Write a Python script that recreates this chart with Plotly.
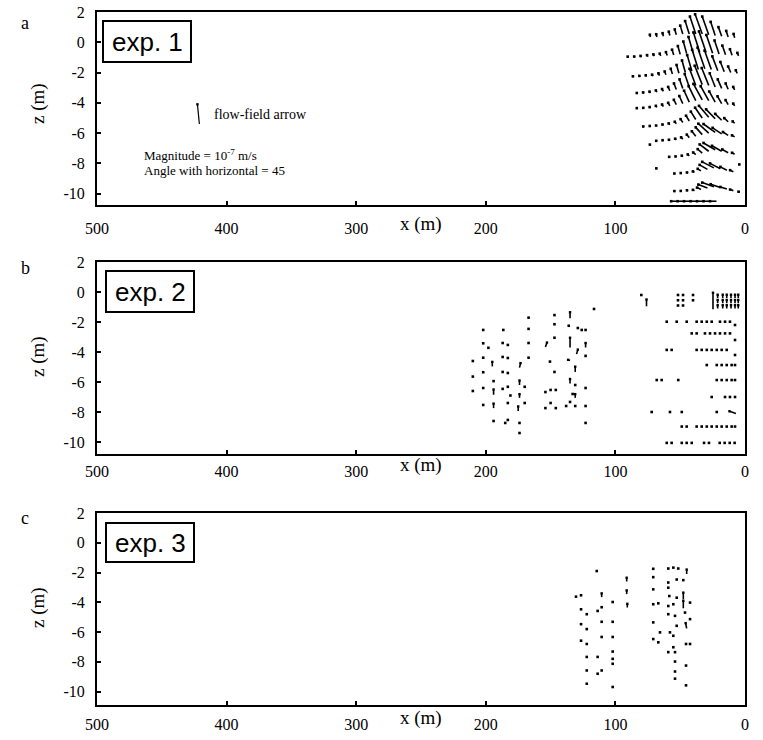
import plotly.graph_objects as go

# ---------------------------------------------------------------------------
# exp. 1 : flow-field vectors on the grid nodes, one sub-list per node row.
# (x, z) = node position [m];  (u, w) = scaled vector components [m]
# ---------------------------------------------------------------------------
EXP1_X = [
    [73, 68, 63, 58, 53, 48, 43, 38, 33, 28, 23, 18, 13, 8],
    [90, 85, 80, 75, 70, 65, 60, 55, 50, 45, 40, 35, 30, 25, 20, 15, 10, 5],
    [86, 81, 76, 71, 66, 61, 56, 51, 46, 41, 36, 31, 26, 21, 16, 11, 6],
    [83, 78, 73, 68, 63, 58, 53, 48, 43, 38, 33, 28, 23, 18, 13, 8],
    [83, 78, 73, 68, 63, 58, 53, 48, 43, 38, 33, 28, 23, 18, 13, 8],
    [78, 73, 68, 63, 58, 53, 48, 43, 38, 33, 28, 23, 18, 13, 8],
    [73, 68, 63, 58, 53, 48, 43, 38, 33, 28, 23, 18, 13, 8],
    [58, 53, 48, 43, 38, 33, 28, 23, 18, 13, 8],
    [68, 54, 49, 44, 39, 34, 29, 24, 19, 14, 9, 4],
    [54, 49, 44, 39, 34, 29, 24, 19, 14, 9, 4],
    [52, 47, 42, 37, 32, 27, 22],
]
EXP1_Z = [
    [0.35, 0.35, 0.4, 0.45, 0.5, 0.55, 0.55, 0.55, 0.55, 0.5, 0.45, 0.4, 0.35, 0.3],
    [-1.0, -1.0, -0.98, -0.95, -0.92, -0.9, -0.87, -0.84, -0.8, -0.75, -0.7, -0.65, -0.68, -0.72, -0.78, -0.82, -0.86, -0.9],
    [-2.3, -2.28, -2.26, -2.24, -2.2, -2.15, -2.1, -2.05, -2.0, -1.9, -1.8, -1.75, -1.8, -1.88, -1.95, -2.0, -2.05],
    [-3.4, -3.38, -3.35, -3.3, -3.25, -3.2, -3.12, -3.05, -2.95, -2.85, -2.8, -2.85, -2.95, -3.05, -3.1, -3.15],
    [-4.4, -4.38, -4.35, -4.3, -4.25, -4.2, -4.12, -4.05, -3.95, -3.85, -3.8, -3.85, -3.95, -4.05, -4.12, -4.2],
    [-5.6, -5.58, -5.55, -5.5, -5.45, -5.38, -5.3, -5.2, -5.1, -5.0, -4.95, -5.05, -5.15, -5.25, -5.35],
    [-6.8, -6.55, -6.52, -6.5, -6.45, -6.4, -6.3, -6.2, -6.1, -6.0, -5.95, -6.05, -6.15, -6.25],
    [-7.6, -7.58, -7.55, -7.5, -7.42, -7.32, -7.2, -7.1, -7.2, -7.3, -7.4],
    [-8.36, -8.7, -8.68, -8.65, -8.6, -8.5, -8.4, -8.3, -8.35, -8.45, -8.55, -8.1],
    [-9.85, -9.85, -9.82, -9.8, -9.72, -9.62, -9.55, -9.6, -9.7, -9.8, -9.9],
    [-10.5, -10.5, -10.5, -10.5, -10.5, -10.5, -10.5],
]
EXP1_U = [
    [0.4, 0.5, 0.6, 0.8, 1.2, 2.0, 3.2, 4.5, 5.5, 5.0, 3.5, 2.5, 1.5, 0.8],
    [0.5, 0.5, 0.6, 0.6, 0.7, 0.8, 1.0, 1.3, 1.8, 2.6, 3.6, 4.8, 5.5, 4.8, 3.5, 2.5, 1.6, 0.9],
    [0.5, 0.5, 0.6, 0.7, 0.8, 1.0, 1.3, 1.8, 2.6, 3.6, 4.8, 5.6, 5.2, 4.2, 3.0, 2.0, 1.1],
    [0.5, 0.6, 0.7, 0.8, 1.0, 1.3, 1.8, 2.5, 3.5, 4.8, 5.8, 5.4, 4.2, 3.0, 1.9, 1.1],
    [0.5, 0.5, 0.6, 0.8, 1.0, 1.3, 1.9, 2.7, 4.0, 5.5, 6.8, 6.2, 4.6, 3.2, 2.0, 1.1],
    [0.5, 0.5, 0.6, 0.7, 0.9, 1.2, 1.7, 2.5, 3.8, 5.5, 7.5, 7.0, 5.0, 3.0, 1.5],
    [0.4, 0.5, 0.6, 0.7, 0.9, 1.3, 1.9, 3.0, 5.0, 8.0, 9.0, 7.0, 4.0, 2.0],
    [0.5, 0.6, 0.8, 1.2, 2.0, 3.5, 7.0, 9.0, 7.5, 4.5, 2.0],
    [0.4, 0.5, 0.6, 0.8, 1.2, 2.5, 6.0, 9.0, 8.0, 5.0, 2.5, 0.4],
    [0.5, 0.6, 0.8, 1.2, 3.0, 7.0, 9.0, 7.5, 5.0, 2.5, 1.0],
    [5.0, 5.0, 5.0, 5.0, 5.0, 5.0, 5.0],
]
EXP1_W = [
    [0.15, 0.18, 0.2, 0.25, 0.35, 0.55, 0.85, 1.15, 1.3, 1.2, 0.9, 0.6, 0.4, 0.25],
    [0.05, 0.06, 0.08, 0.1, 0.12, 0.15, 0.22, 0.35, 0.55, 0.8, 1.05, 1.3, 1.4, 1.2, 0.9, 0.6, 0.4, 0.2],
    [0.05, 0.06, 0.08, 0.1, 0.15, 0.22, 0.35, 0.55, 0.8, 1.05, 1.3, 1.4, 1.25, 0.95, 0.65, 0.4, 0.2],
    [0.05, 0.07, 0.09, 0.12, 0.16, 0.25, 0.4, 0.6, 0.85, 1.1, 1.25, 1.15, 0.9, 0.6, 0.38, 0.2],
    [0.05, 0.05, 0.07, 0.1, 0.14, 0.2, 0.32, 0.5, 0.75, 0.95, 1.05, 0.95, 0.7, 0.48, 0.3, 0.15],
    [0.04, 0.05, 0.05, 0.07, 0.09, 0.13, 0.22, 0.35, 0.52, 0.68, 0.75, 0.62, 0.42, 0.24, 0.12],
    [0.04, 0.04, 0.05, 0.06, 0.08, 0.12, 0.2, 0.32, 0.48, 0.62, 0.55, 0.4, 0.22, 0.1],
    [0.03, 0.04, 0.06, 0.09, 0.14, 0.26, 0.45, 0.45, 0.36, 0.22, 0.1],
    [0.03, 0.03, 0.04, 0.05, 0.07, 0.14, 0.3, 0.4, 0.35, 0.22, 0.1, 0.03],
    [0.02, 0.03, 0.04, 0.05, 0.12, 0.22, 0.28, 0.22, 0.14, 0.07, 0.03],
    [0.0, 0.0, 0.0, 0.0, 0.0, 0.0, 0.0],
]

# reference vector drawn in the legend of exp. 1
SCALE_X, SCALE_Z, SCALE_U, SCALE_W = [421], [-5.4], [1.5], [1.3]

# ---------------------------------------------------------------------------
# exp. 2 : dots (short vectors) and longer strokes
# ---------------------------------------------------------------------------
EXP2_DOT_X = [
    167, 147, 116.5,
    202, 186.5, 167, 147, 136, 129, 126, 123,
    202, 198, 187, 183, 167, 147,
    210, 202, 187, 183, 167, 150.5, 123,
    210, 202, 187, 183, 147,
    194, 170, 131,
    210, 202, 187, 183, 154, 150, 146, 123,
    181, 170, 133,
    202, 183, 154, 150, 146, 138, 135, 131, 123,
    194, 185, 183, 174, 123,
    174,
    80, 51.7, 51.7, 51.7, 47.8, 47.8, 47.8, 40.1, 40.1,
    7.7, 7.7, 7.7,
]
EXP2_DOT_Z = [
    -1.71, -1.54, -1.13,
    -2.53, -2.53, -2.46, -2.15, -2.25, -2.4, -2.53, -2.53,
    -3.42, -3.72, -3.4, -3.53, -3.4, -3.05,
    -4.6, -4.38, -4.33, -4.4, -4.38, -4.64, -4.26,
    -5.64, -5.35, -5.33, -5.4, -5.33,
    -5.94, -6.32, -6.2,
    -6.6, -6.4, -6.46, -6.32, -6.67, -6.53, -6.53, -6.4,
    -6.9, -7.4, -6.8,
    -7.53, -7.4, -7.74, -7.4, -7.74, -7.6, -7.33, -7.6, -7.6,
    -8.6, -8.73, -8.53, -8.73, -8.73,
    -9.4,
    -0.2, -0.2, -0.55, -0.9, -0.2, -0.55, -0.9, -0.2, -0.55,
    -2.2, -3.2, -4.2,
]
# regular node rows near the right-hand boundary
EXP2_ROW_Z = [-1.98, -2.76, -3.86, -4.87, -5.87, -7.0, -8.0, -8.97, -10.06]
EXP2_ROW_X = [
    [60.4, 52.7, 45, 37.3, 33.4, 29.5, 25.7, 19.3, 15.4, 11.6],
    [41.1, 37.3, 30.9, 27, 23.1, 19.3, 15.4, 11.6],
    [60.4, 56.6, 37.3, 33.4, 29.5, 25.7, 21.8, 18, 14.1],
    [29.5, 21.8, 18, 14.1, 10.3, 7.7],
    [68.1, 64.3, 51.5, 21.8, 18, 14.1, 10.3, 7.7],
    [25.7, 15.4, 11.6, 7.7],
    [72, 57.9, 48.8, 21.8],
    [48.8, 45, 37.3, 33.4, 29.5, 25.7, 21.8, 18, 14.1, 10.3, 7.7],
    [60.4, 56.6, 48.8, 45, 41.1, 31.6, 27.8, 19.5, 15.7, 11.8, 8],
]
EXP2_STROKE_X = [135, 154, 135, 123, 195, 135, 130, 174, 131, 174, 135, 194, 174, 131, 194, 175,
                 76, 24.7, 7,
                 21.1, 17.2, 14.1, 10.8, 7.7, 5.2,
                 21.1, 17.2, 14.1, 10.8, 7.7, 5.2,
                 21.1, 17.2, 14.1, 10.8, 7.7, 5.2]
EXP2_STROKE_Z = [-1.75, -3.67, -3.7, -3.7, -4.96, -4.57, -4.14, -5.04, -5.33, -6.2, -6.1, -6.85, -7.06, -7.06, -7.74, -7.93,
                 -0.95, -1.15, -8.1,
                 -0.4, -0.4, -0.4, -0.4, -0.4, -0.4,
                 -0.75, -0.75, -0.75, -0.75, -0.75, -0.75,
                 -1.1, -1.1, -1.1, -1.1, -1.1, -1.1]
EXP2_STROKE_U = [0, -1.2, 0, 0, 0, 1.5, -1.0, -0.8, 0, 0, 0, 0, 0, 0, 0, 0,
                 0, 0, 5,
                 0, 0, 0, 0, 0, 0,
                 0, 0, 0, 0, 0, 0,
                 0, 0, 0, 0, 0, 0]
EXP2_STROKE_W = [0.4, 0.3, 0.65, 0.3, 0.3, 0.05, 0.3, 0.3, 0.35, 0.3, 0.3, 0.35, 0.25, 0.25, 0.3, 0.3,
                 0.45, 1.1, 0.15,
                 0.22, 0.22, 0.22, 0.22, 0.22, 0.22,
                 0.22, 0.22, 0.22, 0.22, 0.22, 0.22,
                 0.22, 0.22, 0.22, 0.22, 0.22, 0.22]

# ---------------------------------------------------------------------------
# exp. 3
# ---------------------------------------------------------------------------
EXP3_DOT_X = [
    114.4, 130.4, 126.5,
    126.5, 122.1, 113.7, 110.6, 102.1,
    126.5, 122.1, 110.6, 102.1,
    126.5, 122.1, 110.6, 102.1,
    122.1, 113.7, 102.1, 102.1, 102.1,
    122.1, 113.7, 110.6, 122.1, 102.1,
    70.8, 59.2, 55.3, 51.5, 70.8, 59.2, 52.7, 47.6,
    70.8, 59.2, 58.4, 52.7, 70.8, 66.9, 59.2, 55.3, 42.4,
    70.8, 59.2, 54, 46.3, 42.4, 65.6, 57.9, 55.3, 52.7,
    70.8, 66.9, 55.3, 59.2, 54, 45.5, 42.4,
    54, 45.5, 54, 54, 45.5,
]
EXP3_DOT_Z = [
    -1.9, -3.62, -3.53,
    -4.47, -4.8, -4.58, -4.33, -3.98,
    -5.47, -5.8, -5.31, -5.31,
    -6.58, -6.8, -6.33, -6.33,
    -7.67, -7.67, -7.31, -7.8, -8.13,
    -8.58, -8.8, -8.58, -9.47, -9.69,
    -1.75, -1.73, -1.67, -1.73, -2.31, -2.67, -2.47, -2.51,
    -3.13, -3.02, -3.58, -3.69, -4.13, -4.07, -4.25, -4.13, -4.02,
    -5.35, -4.8, -4.91, -4.69, -5.13, -6.02, -6.02, -6.25, -5.58,
    -6.47, -6.69, -7.02, -7.35, -7.35, -6.8, -6.8,
    -7.98, -8.25, -8.65, -9.13, -9.58,
]
EXP3_STROKE_X = [91.3, 91.3, 90.8, 110.6, 45, 47.6, 47.6, 45]
EXP3_STROKE_Z = [-2.6, -3.45, -4.35, -3.65, -2.1, -3.8, -4.4, -5.75]
EXP3_STROKE_U = [0, 0, 0, 0, 0, 0, 0, 0.8]
EXP3_STROKE_W = [0.25, 0.25, 0.25, 0.25, 0.3, 0.45, 0.5, 0.35]

X_TICKS = [500, 400, 300, 200, 100, 0]
X_TICK_TEXT = ["500", "400", "300", "200", "100", "0"]
Z_TICKS = [2, 0, -2, -4, -6, -8, -10]
Z_TICK_TEXT = ["2", "0", "-2", "-4", "-6", "-8", "-10"]

# ---------------------------------------------------------------------------
W, H = 763, 740
ML, MR, MT, MB = 97, 18, 12, 35
PW, PH = W - ML - MR, H - MT - MB

SERIF = "Liberation Serif"
SANS = "Liberation Sans"
INK = "black"


def xp(px):
    return (px - ML) / PW


def yp(py):
    return (H - MB - py) / PH


def flatten(rows):
    return [v for row in rows for v in row]


def vectors(xs, zs, us, ws):
    lx, lz, tx, tz = [], [], [], []
    for x, z, u, w in zip(xs, zs, us, ws):
        lx += [x, x + u, None]
        lz += [z, z + w, None]
        tx.append(x + u)
        tz.append(z + w)
    return lx, lz, tx, tz


fig = go.Figure()

# (top px, bottom px, z range, x-label standoff, x-title row px)
PANELS = [
    (12, 205, [-10.75, 2.0], 8, 224),
    (262, 454, [-10.8, 2.0], 2, 465),
    (513, 705, [-10.9, 2.0], 4, 718),
]


def add_field(i, xs, zs, us, ws, lw, msize):
    lx, lz, tx, tz = vectors(xs, zs, us, ws)
    ax = "" if i == 1 else str(i)
    fig.add_trace(go.Scatter(x=lx, y=lz, mode="lines", line=dict(color=INK, width=lw),
                             xaxis="x" + ax, yaxis="y" + ax, hoverinfo="skip", showlegend=False))
    fig.add_trace(go.Scatter(x=tx, y=tz, mode="markers",
                             marker=dict(color=INK, size=msize, symbol="square", line=dict(width=0)),
                             xaxis="x" + ax, yaxis="y" + ax, hoverinfo="skip", showlegend=False))


# exp. 1 field
add_field(1, flatten(EXP1_X), flatten(EXP1_Z), flatten(EXP1_U), flatten(EXP1_W), 1.6, 2.6)
add_field(1, SCALE_X, SCALE_Z, SCALE_U, SCALE_W, 1.2, 2.4)

# exp. 2 field
e2x = EXP2_DOT_X + flatten(EXP2_ROW_X)
e2z = EXP2_DOT_Z + flatten([[z] * len(r) for z, r in zip(EXP2_ROW_Z, EXP2_ROW_X)])
add_field(2, e2x, e2z, [0] * len(e2x), [0] * len(e2x), 1.6, 2.6)
add_field(2, EXP2_STROKE_X, EXP2_STROKE_Z, EXP2_STROKE_U, EXP2_STROKE_W, 1.6, 2.4)

# exp. 3 field
add_field(3, EXP3_DOT_X, EXP3_DOT_Z, [0] * len(EXP3_DOT_X), [0] * len(EXP3_DOT_X), 1.6, 2.6)
add_field(3, EXP3_STROKE_X, EXP3_STROKE_Z, EXP3_STROKE_U, EXP3_STROKE_W, 1.6, 2.4)

layout = dict(
    width=W, height=H, margin=dict(l=ML, r=MR, t=MT, b=MB, autoexpand=False),
    paper_bgcolor="white", plot_bgcolor="white", showlegend=False,
    font=dict(family=SERIF, color=INK),
)

annotations = []
shapes = []
letters = ["a", "b", "c"]
letter_y = [23, 268, 518]
box_px = [(103, 21, 191, 62), (106, 271, 194, 312), (106, 523, 194, 562)]
zlabel_y = [104, 357, 608]

for i, (top, bot, zr, stand, xt_y) in enumerate(PANELS, start=1):
    sfx = "" if i == 1 else str(i)
    common = dict(showgrid=False, zeroline=False, showline=True, mirror=True, automargin=False,
                  linecolor=INK, linewidth=2, ticks="inside", ticklen=4, tickwidth=1.5,
                  tickcolor=INK, tickfont=dict(family=SERIF, size=16, color=INK))
    layout["xaxis" + sfx] = dict(common, domain=[0, 1], range=[500, 0], anchor="y" + sfx,
                                 tickvals=X_TICKS, ticktext=X_TICK_TEXT,
                                 ticklabelstandoff=stand)
    layout["yaxis" + sfx] = dict(common, domain=[yp(bot), yp(top)], range=zr, anchor="x" + sfx,
                                 tickvals=Z_TICKS, ticktext=Z_TICK_TEXT, ticklabelstandoff=7)
    # x axis title sits in line with the tick labels
    annotations.append(dict(text="x (m)", xref="x" + sfx, x=250, yref="paper", y=yp(xt_y),
                            xanchor="center", yanchor="middle", showarrow=False,
                            font=dict(family=SERIF, size=19, color=INK)))
    annotations.append(dict(text="z (m)", xref="paper", x=xp(38), yref="paper", y=yp(zlabel_y[i - 1]),
                            xanchor="center", yanchor="middle", textangle=-90, showarrow=False,
                            font=dict(family=SERIF, size=19, color=INK)))
    annotations.append(dict(text=letters[i - 1], xref="paper", x=xp(25), yref="paper",
                            y=yp(letter_y[i - 1]), xanchor="center", yanchor="middle",
                            showarrow=False, font=dict(family=SERIF, size=18, color=INK)))
    x0, y0, x1, y1 = box_px[i - 1]
    shapes.append(dict(type="rect", xref="paper", yref="paper", x0=xp(x0), x1=xp(x1),
                       y0=yp(y1), y1=yp(y0), line=dict(color=INK, width=2), fillcolor="white",
                       layer="above"))
    annotations.append(dict(text="exp. %d" % i, xref="paper", yref="paper",
                            x=xp((x0 + x1) / 2), y=yp((y0 + y1) / 2), xanchor="center",
                            yanchor="middle", showarrow=False,
                            font=dict(family=SANS, size=26, color=INK)))

# legend text for the reference vector (exp. 1)
annotations += [
    dict(text="flow-field arrow", xref="x", yref="y", x=411, y=-4.75, xanchor="left",
         yanchor="middle", showarrow=False, font=dict(family=SERIF, size=14, color=INK)),
    dict(text="Magnitude = 10<sup>-7</sup> m/s", xref="x", yref="y", x=465, y=-7.45,
         xanchor="left", yanchor="middle", showarrow=False,
         font=dict(family=SERIF, size=13, color=INK)),
    dict(text="Angle with horizontal = 45", xref="x", yref="y", x=465, y=-8.5, xanchor="left",
         yanchor="middle", showarrow=False, font=dict(family=SERIF, size=13, color=INK)),
]

layout["annotations"] = annotations
layout["shapes"] = shapes
fig.update_layout(**layout)
fig.write_html("out.html")
